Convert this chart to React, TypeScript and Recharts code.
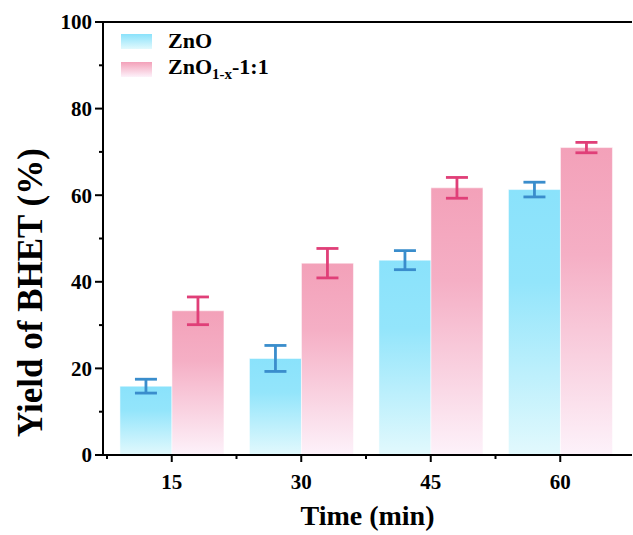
import React from 'react';
import { BarChart, Bar, XAxis, YAxis, ErrorBar, ReferenceLine, Legend } from 'recharts';

// Reaction time (min)
const times = ['15', '30', '45', '60'];
// BHET yield (%) and standard deviations
const znoYield = [15.9, 22.3, 45.0, 61.3];
const znoErr = [1.6, 3.0, 2.2, 1.7];
const znoxYield = [33.3, 44.3, 61.7, 71.0];
const znoxErr = [3.2, 3.4, 2.4, 1.2];
const yTicks = [0, 10, 20, 30, 40, 50, 60, 70, 80, 90, 100];

const data = times.map((t, i) => ({
  time: t,
  zno: znoYield[i],
  znoErr: znoErr[i],
  znox: znoxYield[i],
  znoxErr: znoxErr[i],
}));

const FONT = "'Liberation Serif', 'Times New Roman', Times, serif";

const BLUE = { top: '#8ae2fb', mid: '#93e5fb', bottom: '#e2f9fd', err: '#3a8dcc' };
const PINK = { top: '#f3a1b9', mid: '#f5afc5', bottom: '#fdf2fa', err: '#e03f78' };

const YTick = (props: any) => {
  const { x, y, payload } = props;
  const v = payload.value;
  const major = v % 20 === 0;
  return (
    <g>
      <line x1={x - (major ? 8 : 4)} x2={x} y1={y} y2={y} stroke="#000" strokeWidth={2} />
      {major && (
        <text x={x - 11} y={y} dy="0.35em" textAnchor="end" style={{ fontFamily: FONT, fontWeight: 700, fontSize: 21 }} fill="#000">
          {v}
        </text>
      )}
    </g>
  );
};

const XTick = (props: any) => {
  const { x, y, payload } = props;
  const half = payload && payload.offset ? payload.offset : 64.75;
  return (
    <g>
      <line x1={x} x2={x} y1={y} y2={y + 7} stroke="#000" strokeWidth={2} />
      <line x1={x - half} x2={x - half} y1={y} y2={y + 4} stroke="#000" strokeWidth={2} />
      <text x={x} y={y + 27} dy="0.35em" textAnchor="middle" style={{ fontFamily: FONT, fontWeight: 700, fontSize: 21 }} fill="#000">
        {payload.value}
      </text>
    </g>
  );
};

const YLabel = (props: any) => {
  const vb = props.viewBox || { y: 22, height: 433 };
  const cy = vb.y + vb.height / 2 + 54;
  const cx = 30;
  return (
    <text x={cx} y={cy} transform={`rotate(-90, ${cx}, ${cy})`} textAnchor="middle" dy="0.35em"
      style={{ fontFamily: FONT, fontWeight: 700, fontSize: 35 }} fill="#000">
      Yield of BHET (%)
    </text>
  );
};

const XLabel = (props: any) => {
  const vb = props.viewBox || { x: 103, width: 529, y: 455 };
  const cx = vb.x + vb.width / 2;
  return (
    <text x={cx} y={vb.y + 70} textAnchor="middle"
      style={{ fontFamily: FONT, fontWeight: 700, fontSize: 28 }} fill="#000">
      Time (min)
    </text>
  );
};

const Swatch = ({ c, id }: { c: typeof BLUE; id: string }) => (
  <svg width={31} height={15} style={{ display: 'block', marginRight: 16 }}>
    <defs>
      <linearGradient id={id} x1="0" y1="0" x2="0" y2="1">
        <stop offset="0%" stopColor={c.top} />
        <stop offset="100%" stopColor={c.bottom} />
      </linearGradient>
    </defs>
    <rect x={0} y={0} width={31} height={15} fill={`url(#${id})`} />
  </svg>
);

const LegendBox = () => (
  <div style={{ fontFamily: FONT, fontWeight: 700, fontSize: 22, color: '#000', lineHeight: 1, whiteSpace: 'nowrap' }}>
    <div style={{ display: 'flex', alignItems: 'center', height: 28 }}>
      <Swatch c={BLUE} id="lg-blue" />
      <span>ZnO</span>
    </div>
    <div style={{ display: 'flex', alignItems: 'center', height: 28 }}>
      <Swatch c={PINK} id="lg-pink" />
      <span>
        ZnO<sub style={{ fontSize: 15, verticalAlign: '-0.3em' }}>1-x</sub>-1:1
      </span>
    </div>
  </div>
);

export default function App() {
  return (
    <div style={{ position: 'absolute', left: 0, top: 0, width: 633, height: 535, background: '#fff' }}>
      <BarChart
        width={633}
        height={535}
        data={data}
        margin={{ top: 22, right: 1, bottom: 0, left: 0 }}
        barCategoryGap="10%"
        barGap={0}
      >
        <defs>
          <linearGradient id="gBlue" x1="0" y1="0" x2="0" y2="1">
            <stop offset="0%" stopColor={BLUE.top} />
            <stop offset="35%" stopColor={BLUE.mid} />
            <stop offset="100%" stopColor={BLUE.bottom} />
          </linearGradient>
          <linearGradient id="gPink" x1="0" y1="0" x2="0" y2="1">
            <stop offset="0%" stopColor={PINK.top} />
            <stop offset="35%" stopColor={PINK.mid} />
            <stop offset="100%" stopColor={PINK.bottom} />
          </linearGradient>
        </defs>
        <XAxis
          dataKey="time"
          height={80}
          padding={{ left: 4, right: 7 }}
          axisLine={{ stroke: '#000', strokeWidth: 2 }}
          tickLine={false}
          tickSize={0}
          tickMargin={0}
          tick={<XTick />}
          interval={0}
          label={<XLabel />}
        />
        <YAxis
          width={103}
          domain={[0, 100]}
          ticks={yTicks}
          interval={0}
          axisLine={{ stroke: '#000', strokeWidth: 2 }}
          tickLine={false}
          tickSize={0}
          tickMargin={0}
          tick={<YTick />}
          label={<YLabel />}
        />
        <ReferenceLine y={100} stroke="#000" strokeWidth={2} ifOverflow="visible" />
        <Legend
          layout="vertical"
          align="center"
          verticalAlign="middle"
          wrapperStyle={{ left: 121, top: 27, width: 220, height: 56 }}
          content={<LegendBox />}
        />
        <Bar dataKey="zno" name="ZnO" fill="url(#gBlue)" stroke="rgba(255,255,255,0.5)" strokeWidth={1} isAnimationActive={false}>
          <ErrorBar dataKey="znoErr" width={11} stroke={BLUE.err} strokeWidth={2.8} />
        </Bar>
        <Bar dataKey="znox" name="ZnO1-x-1:1" fill="url(#gPink)" stroke="rgba(255,255,255,0.5)" strokeWidth={1} isAnimationActive={false}>
          <ErrorBar dataKey="znoxErr" width={11} stroke={PINK.err} strokeWidth={2.8} />
        </Bar>
      </BarChart>
    </div>
  );
}
